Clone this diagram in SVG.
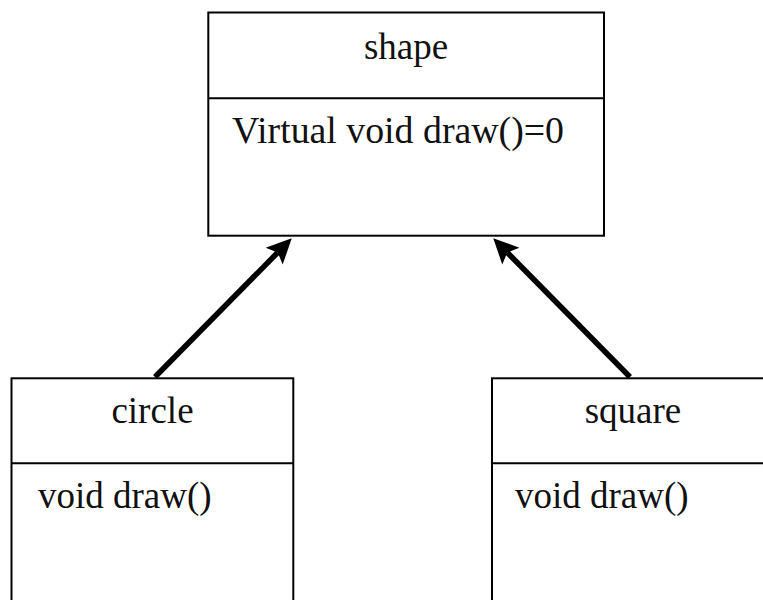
<svg xmlns="http://www.w3.org/2000/svg" width="763" height="600" viewBox="0 0 763 600">
<style>
.box{fill:#fff;stroke:#000;stroke-width:2}
.div{stroke:#000;stroke-width:2}
.t{font-family:"Liberation Serif","Times New Roman",serif;font-size:37px;fill:#111}
.c{text-anchor:middle}
.edge{stroke:#000;stroke-width:5.5;fill:none}
</style>
<defs>
<marker id="ah" markerUnits="userSpaceOnUse" viewBox="0 -13 28 26" markerWidth="28" markerHeight="26" refX="5" refY="0" orient="auto" overflow="visible">
<path d="M0,-12 L25,0 L0,12 L5,0 z" fill="#000"/>
</marker>
</defs>
<rect width="763" height="600" fill="#fff"/>
<g id="connectors">
<line class="edge" x1="155" y1="377" x2="277.7" y2="252.5" marker-end="url(#ah)"/>
<line class="edge" x1="630" y1="377" x2="507.3" y2="252.5" marker-end="url(#ah)"/>
</g>
<g id="shape">
<rect class="box" x="208.3" y="12.5" width="395.7" height="223.2"/>
<line class="div" x1="208.3" y1="98.3" x2="604" y2="98.3"/>
<text class="t c" x="406" y="59">shape</text>
<text class="t" x="232" y="143" textLength="332" lengthAdjust="spacingAndGlyphs">Virtual void draw()=0</text>
</g>
<g id="circle">
<rect class="box" x="11.5" y="378.3" width="281.8" height="240"/>
<line class="div" x1="11.5" y1="463.3" x2="293.3" y2="463.3"/>
<text class="t c" x="152.5" y="423">circle</text>
<text class="t" x="38" y="508">void draw()</text>
</g>
<g id="square">
<rect class="box" x="492" y="378.3" width="282" height="240"/>
<line class="div" x1="492" y1="463.3" x2="774" y2="463.3"/>
<text class="t c" x="633" y="423">square</text>
<text class="t" x="515" y="508">void draw()</text>
</g>
</svg>
